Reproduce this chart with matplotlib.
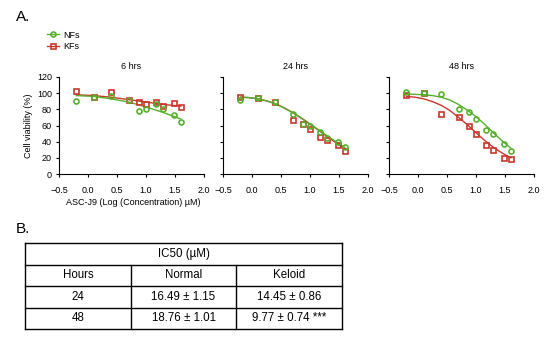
import matplotlib.pyplot as plt
import numpy as np

plt.rcParams['font.family'] = ['Liberation Sans', 'DejaVu Sans']

# 数据
log_conc = [-0.2, 0.1, 0.4, 0.7, 0.875, 1.0, 1.18, 1.3, 1.477, 1.6]
titles = ["6 hrs", "24 hrs", "48 hrs"]

nf_pts = [
    [90, 95, 97, 91, 78, 80, 87, 80, 73, 64],
    [92, 94, 89, 74, 62, 59, 52, 44, 39, 33],
    [102, 100, 99, 81, 77, 68, 54, 49, 37, 29],
]
kf_pts = [
    [103, 95, 101, 91, 89, 87, 89, 84, 88, 83],
    [95, 94, 89, 67, 62, 56, 46, 42, 36, 29],
    [98, 100, 74, 70, 59, 50, 36, 30, 20, 18],
]

# fitted curves
curve_x = [-0.2, -0.05, 0.1, 0.25, 0.4, 0.55, 0.7, 0.85, 1.0, 1.15, 1.3, 1.45, 1.6]
nf_curve = [
    [97, 96.5, 96, 94.5, 93, 91, 89, 86, 83, 79.5, 76, 72, 68],
    [95, 94.5, 93, 90.5, 87, 82, 76, 69.5, 62, 54.5, 47, 40, 33],
    [99, 98.5, 98, 97, 95, 91.5, 86, 79, 71, 61.5, 51, 41, 32],
]
kf_curve = [
    [98, 97.5, 97, 96, 95, 93.5, 92, 90.5, 89, 87.5, 86, 85, 84],
    [95, 94.5, 93, 90.5, 87, 82, 76, 69, 61.5, 54, 46, 38.5, 31],
    [96, 95, 93, 89.5, 85, 78.5, 70, 61, 51, 41.5, 33, 26, 20],
]

# 表格
table_header = "IC50 (\u00b5M)"
col_labels = ["Hours", "Normal", "Keloid"]
table_rows = [
    ["24", "16.49 \u00b1 1.15", "14.45 \u00b1 0.86"],
    ["48", "18.76 \u00b1 1.01", "9.77 \u00b1 0.74 ***"],
]

green = "#56b02c"
red = "#c9362c"
fs = 6.5
ms = 3.6

fig = plt.figure(figsize=(5.5, 3.38), dpi=100)

lefts = [59, 223, 389]
for i, left in enumerate(lefts):
    ax = fig.add_axes([left / 550, 1 - 174 / 338, 145 / 550, 97 / 338])
    ax.plot(curve_x, kf_curve[i], color=red, lw=1)
    ax.plot(curve_x, nf_curve[i], color=green, lw=1)
    ax.plot(log_conc, kf_pts[i], 's', mfc='none', mec=red, ms=ms, mew=1.2)
    ax.plot(log_conc, nf_pts[i], 'o', mfc='none', mec=green, ms=ms, mew=1.2)
    ax.set_xlim(-0.5, 2.0)
    ax.set_ylim(0, 120)
    ax.set_xticks(np.arange(-0.5, 2.01, 0.5))
    ax.set_yticks(np.arange(0, 121, 20))
    ax.spines[['top', 'right']].set_visible(False)
    ax.tick_params(labelsize=fs, length=2.5, width=0.8, pad=6)
    ax.tick_params(axis='y', pad=2.5)
    ax.set_title(titles[i], fontsize=fs, pad=6)
    if i == 0:
        ax.set_ylabel("Cell viability (%)", fontsize=fs, labelpad=3)
    else:
        ax.set_yticklabels([])

fig.text(66 / 550, 1 - 202 / 338, "ASC-J9 (Log (Concentration) \u00b5M)",
         fontsize=fs, va='center', ha='left')

h1, = plt.plot([], [], '-o', color=green, mfc='none', mec=green, ms=ms, mew=1.2, lw=1)
h2, = plt.plot([], [], '-s', color=red, mfc='none', mec=red, ms=ms, mew=1.2, lw=1)
fig.legend([h1, h2], ["NFs", "KFs"], loc='upper left', bbox_to_anchor=(42 / 550, 1 - 26 / 338),
           frameon=False, fontsize=fs, handlelength=1.4, handletextpad=0.5, labelspacing=0.25,
           borderpad=0)

fig.text(16 / 550, 1 - 17 / 338, "A.", fontsize=11, va='center')
fig.text(16 / 550, 1 - 229 / 338, "B.", fontsize=11, va='center')

# table drawn on its own axes
tx = fig.add_axes([25 / 550, 1 - 329 / 338, 317 / 550, 86 / 338])
tx.set_xlim(0, 3)
tx.set_ylim(0, 4)
tx.axis('off')
lw = 1
for y in range(5):
    tx.plot([0, 3], [y, y], color='black', lw=lw, clip_on=False, solid_capstyle='projecting')
tx.plot([0, 0], [0, 4], color='black', lw=lw, clip_on=False)
tx.plot([3, 3], [0, 4], color='black', lw=lw, clip_on=False)
for xv in [1, 2]:
    tx.plot([xv, xv], [0, 3], color='black', lw=lw, clip_on=False)
tfs = 8.3
tx.text(1.5, 3.5, table_header, ha='center', va='center', fontsize=tfs)
for j, lab in enumerate(col_labels):
    tx.text(j + 0.5, 2.5, lab, ha='center', va='center', fontsize=tfs)
for r, row in enumerate(table_rows):
    for j, val in enumerate(row):
        tx.text(j + 0.5, 1.5 - r, val, ha='center', va='center', fontsize=tfs)

fig.savefig("out.png", dpi=100)
